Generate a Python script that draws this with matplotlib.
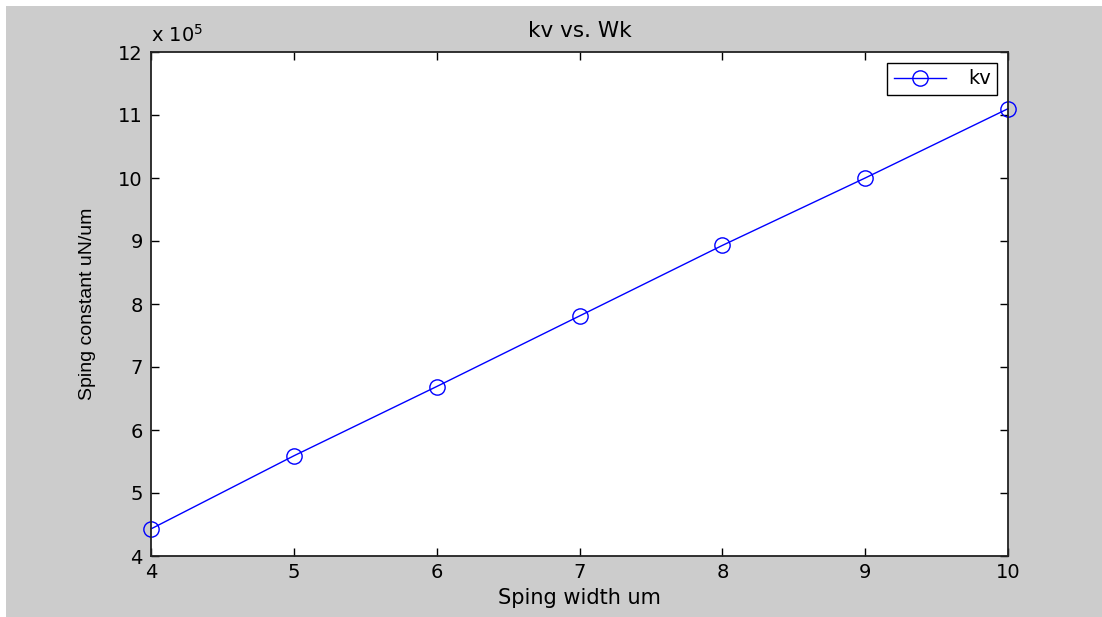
import numpy as np
import matplotlib
matplotlib.use("Agg")
import matplotlib.pyplot as plt
from matplotlib.patches import Rectangle
from matplotlib.ticker import FuncFormatter

# Spring width (um) vs spring constant kv (uN/um)
width_um = [4, 5, 6, 7, 8, 9, 10]
kv = [4.43e5, 5.59e5, 6.69e5, 7.81e5, 8.93e5, 10.0e5, 11.1e5]
x_ticks = [4, 5, 6, 7, 8, 9, 10]
y_ticks = [4e5, 5e5, 6e5, 7e5, 8e5, 9e5, 10e5, 11e5, 12e5]

plt.rcParams['font.family'] = ['DejaVu Sans']
gray = '#cccccc'

fig = plt.figure(figsize=(11.02, 6.17), dpi=100, facecolor='white')
# MATLAB-style gray figure background, with small white strip top/left
fig.patches.append(Rectangle((6 / 1102, 0), 1 - 6 / 1102, 1 - 6 / 617,
                             transform=fig.transFigure, facecolor=gray,
                             edgecolor='none', zorder=-10))

ax = fig.add_axes([151 / 1102, 61 / 617, (1008 - 151) / 1102, (556 - 52) / 617])
ax.set_facecolor('white')
ax.plot(width_um, kv, color='blue', linewidth=1, marker='o', markersize=11,
        markerfacecolor='none', markeredgecolor='blue', markeredgewidth=1,
        label='kv', clip_on=False)

ax.set_xlim(4, 10)
ax.set_ylim(4e5, 12e5)
ax.set_xticks(x_ticks)
ax.set_yticks(y_ticks)
ax.yaxis.set_major_formatter(FuncFormatter(lambda v, p: f"{v / 1e5:g}"))
ax.tick_params(direction='in', length=6, width=1, top=True, right=True,
               labelsize=14, colors='black', pad=6)
ax.tick_params(axis='x', pad=5)
for s in ax.spines.values():
    s.set_linewidth(1.3)
    s.set_color('#222222')

ax.text(0.0, 1.012, r'x 10$^5$', transform=ax.transAxes, fontsize=14,
        ha='left', va='bottom')
ax.set_title('kv vs. Wk', fontsize=15.5, pad=11)
ax.set_xlabel('Sping width um', fontsize=15, labelpad=4)
ax.set_ylabel('Sping constant uN/um', fontsize=14, labelpad=16,
              family=['Liberation Sans Narrow', 'Liberation Sans', 'DejaVu Sans'])

leg = ax.legend(loc='upper right', fontsize=14, fancybox=False, framealpha=1,
                edgecolor='black', borderaxespad=0.55, handlelength=2.7,
                handletextpad=1.1, borderpad=0.35)
leg.get_frame().set_linewidth(1)

fig.savefig('out.png', dpi=100, facecolor=fig.get_facecolor())
